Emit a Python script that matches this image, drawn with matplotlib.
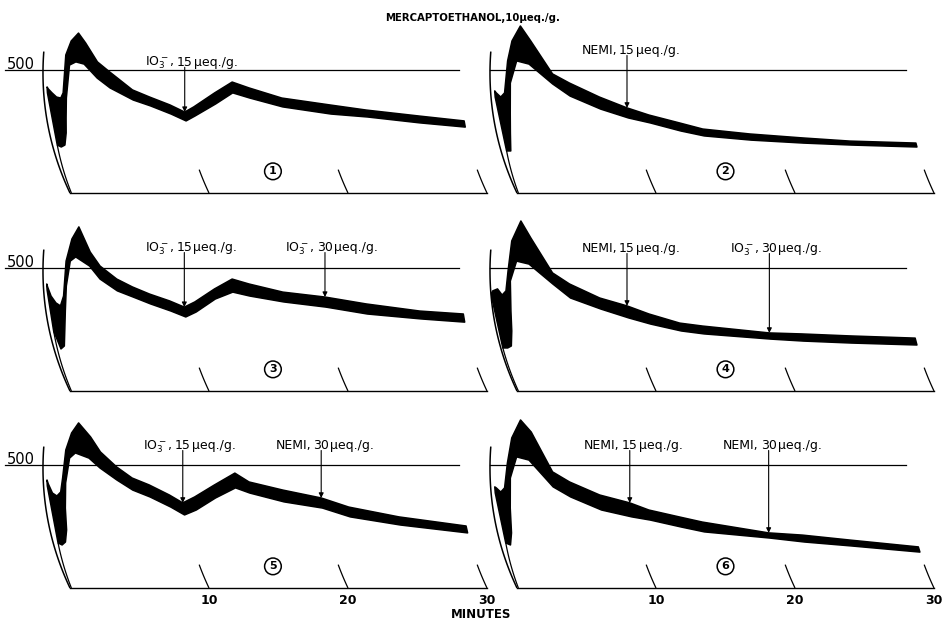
"""Six recorder traces: mercaptoethanol 10 ueq/g followed by IO3- / NEMI additions."""

import numpy as np
import matplotlib
matplotlib.use("Agg")
import matplotlib.pyplot as plt

# --------------------------------------------------------------- data
# Pen band: time (min) and upper / lower edge of the
# trace in chart units (the ruled line is 500).

time_1 = [0.27, 0.35, 0.6, 0.9, 1.2, 1.4, 1.6, 1.9,
          2.35, 2.95, 3.9, 4.8, 6.4, 7.6, 9.0, 10.0, 10.7, 12.3, 13.6,
          14.8, 17.1, 20.5, 23.1, 26.8, 30.0]
upper_1 = [431, 423, 407, 390, 386, 407, 561, 618,
           650, 610, 533, 492, 419, 390, 358, 329, 350, 407, 451,
           427, 386, 358, 337, 313, 293]
lower_1 = [407, 195, 187, 195, 244, 305, 386, 520,
           533, 524, 467, 427, 378, 354, 321, 293, 313, 362, 407,
           386, 350, 321, 309, 285, 268]

time_2 = [0.3, 0.4, 0.7, 1.0, 1.25, 1.45,
          1.9, 2.8, 4.5, 5.7, 7.8, 9.7, 11.2, 13.3, 14.9, 18.2, 21.9, 25.3, 30.0]
upper_2 = [415, 407, 390, 407, 537, 618,
           679, 618, 484, 447, 390, 346, 317, 285, 260, 240, 224, 211, 203]
lower_2 = [390, 171, 171, 244, 325, 447,
           537, 524, 443, 394, 341, 305, 285, 252, 232, 215, 203, 195, 187]

time_3 = [0.25, 0.3, 0.5, 0.8, 1.1, 1.4, 1.65, 1.95,
          2.33, 3.35, 4.1, 5.3, 6.4, 7.6, 9.0, 10.0, 10.8, 12.3, 13.6,
          14.8, 17.2, 20.2, 23.1, 26.9, 30.0]
upper_3 = [435, 423, 386, 358, 346, 386, 528, 618,
           667, 565, 508, 455, 423, 394, 366, 341, 362, 415, 455,
           435, 402, 382, 354, 325, 313]
lower_3 = [411, 244, 171, 183, 244, 325, 427, 528,
           545, 508, 455, 407, 382, 354, 325, 301, 321, 374, 402,
           386, 362, 341, 313, 293, 280]

time_4 = [0.05, 0.15, 0.5, 0.8, 1.1, 1.3, 1.45,
          1.9, 2.8, 4.5, 5.7, 7.8, 9.7, 11.2, 13.3, 14.9, 19.6, 21.9, 25.3, 30.0]
upper_4 = [398, 407, 415, 390, 407, 488, 610,
           691, 622, 480, 435, 378, 346, 313, 276, 264, 236, 232, 224, 215]
lower_4 = [374, 175, 175, 183, 244, 325, 447,
           528, 516, 435, 378, 333, 297, 272, 244, 232, 211, 203, 195, 187]

time_5 = [0.27, 0.35, 0.6, 0.9, 1.2, 1.4, 1.6, 1.9,
          2.3, 3.3, 4.1, 5.3, 6.4, 7.6, 9.0, 9.9, 10.8, 12.3, 13.8,
          14.8, 17.2, 19.9, 21.8, 25.3, 30.0]
upper_5 = [439, 423, 386, 374, 390, 447, 561, 630,
           671, 614, 553, 492, 447, 419, 378, 346, 370, 419, 467,
           431, 398, 366, 329, 289, 252]
lower_5 = [415, 183, 175, 187, 236, 325, 427, 528,
           549, 528, 488, 439, 398, 370, 329, 297, 317, 366, 407,
           386, 350, 325, 289, 256, 224]

time_6 = [0.3, 0.4, 0.7, 1.0, 1.25, 1.45,
          1.9, 2.8, 4.5, 5.7, 7.8, 9.9, 11.2, 13.3, 14.9, 19.5, 21.9, 25.2, 30.0]
upper_6 = [411, 407, 390, 407, 508, 610,
           683, 634, 472, 431, 378, 346, 317, 289, 268, 224, 215, 195, 167]
lower_6 = [386, 183, 175, 224, 325, 447,
           533, 520, 411, 370, 317, 289, 276, 248, 228, 203, 187, 171, 146]

# (reagent, dose in ueq/g, time of addition in min)
additions_1 = [("IO3", 15, 10.0)]
additions_2 = [("NEMI", 15, 9.7)]
additions_3 = [("IO3", 15, 10.0), ("IO3", 30, 20.2)]
additions_4 = [("NEMI", 15, 9.7), ("IO3", 30, 19.6)]
additions_5 = [("IO3", 15, 9.9), ("NEMI", 30, 19.9)]
additions_6 = [("NEMI", 15, 9.9), ("NEMI", 30, 19.5)]

title = "MERCAPTOETHANOL,10μeq./g."
reference_level = 500
minute_ticks = [10, 20, 30]
reagent_names = {"IO3": r"IO$_3^-$,", "NEMI": "NEMI,"}

# --------------------------------------------------------------- layout
W, H = 948, 623
PX_MIN = 13.9          # px per minute
PX_UNIT = 0.246        # px per chart unit
ARC_R, ARC_HC = 280.0, 120.0   # pen arc radius / centre height, px
COL_X0 = [70, 517]
ROW_Y0 = [193, 391, 588]
XLIM = (-6.0, 32.0)
YLIM = (-80.0, 760.0)
LABEL_V = [517, 565, 569, 565, 565, 565]   # text baseline per panel
FS = 9


def shift(v):
    """Curvilinear pen: horizontal lag (min) of a point at height v."""
    h = np.asarray(v, dtype=float) * PX_UNIT
    return (np.sqrt(ARC_R ** 2 - (h - ARC_HC) ** 2)
            - np.sqrt(ARC_R ** 2 - ARC_HC ** 2)) / PX_MIN


def time_line(ax, t0, t1, v0, v1, lw=1.0):
    v = np.linspace(v0, v1, 60)
    t = np.linspace(t0, t1, 60)
    ax.plot(t - shift(v), v, color="k", lw=lw, solid_capstyle="butt")


def panel_axes(fig, x0, y0):
    left = x0 + XLIM[0] * PX_MIN
    width = (XLIM[1] - XLIM[0]) * PX_MIN
    top = y0 - YLIM[1] * PX_UNIT
    height = (YLIM[1] - YLIM[0]) * PX_UNIT
    ax = fig.add_axes([left / W, 1 - (top + height) / H, width / W, height / H])
    ax.set_xlim(*XLIM)
    ax.set_ylim(*YLIM)
    ax.axis("off")
    ax.patch.set_alpha(0)
    return ax


def draw_panel(ax, time, upper, lower, additions, number, label_v,
               left_col, bottom_row):
    t = np.asarray(time, dtype=float)
    up = np.asarray(upper, dtype=float)
    lo = np.asarray(lower, dtype=float)

    # chart frame: zero-time arc, base line, minute marks, 500 line
    time_line(ax, 0, 0, 0, 575, lw=1.1)
    ax.plot([0, minute_ticks[-1]], [0, 0], color="k", lw=1.0)
    for m in minute_ticks:
        time_line(ax, m, m, 0, 95, lw=0.9)
        if bottom_row:
            ax.text(m, -50, str(m), ha="center", va="center",
                    fontsize=9, fontweight="bold")
    x_start = -4.7 if left_col else -float(shift(reference_level))
    ax.plot([x_start, 28.0], [reference_level] * 2, color="k", lw=0.9)
    if left_col:
        ax.text(-3.55, reference_level + 22, str(reference_level),
                ha="center", va="center", fontsize=10.5)

    # pen trace: drop from zero then the noisy band
    time_line(ax, 0.1, t[1], 0, lo[1], lw=0.9)
    xs = np.r_[t - shift(up), (t - shift(lo))[::-1]]
    vs = np.r_[up, lo[::-1]]
    ax.fill(xs, vs, color="k", lw=1.1, joinstyle="round", zorder=3)

    px = 1.0 / PX_MIN
    for reagent, dose, t_add in additions:
        v_tip = float(np.interp(t_add, t, up))
        x = t_add - float(shift(v_tip))
        ax.annotate("", xy=(x, v_tip), xytext=(x, label_v - 6),
                    arrowprops=dict(arrowstyle="-|>", color="k", lw=0.8,
                                    mutation_scale=7, shrinkA=0, shrinkB=0),
                    zorder=4)
        ax.text(x - 10 * px, label_v, reagent_names[reagent], ha="right",
                va="baseline", fontsize=FS)
        ax.text(x, label_v, str(dose), ha="center", va="baseline", fontsize=FS)
        ax.text(x + 9 * px, label_v, "μeq./g.", ha="left",
                va="baseline", fontsize=FS)

    cx = 14.6 if left_col else 15.0
    ax.text(cx, 88, str(number), ha="center", va="center", fontsize=8,
            fontweight="bold",
            bbox=dict(boxstyle="circle,pad=0.3", fc="white", ec="k", lw=1.1))


# --------------------------------------------------------------- figure
plt.rcParams["mathtext.fontset"] = "dejavusans"
fig = plt.figure(figsize=(W / 100, H / 100), dpi=100)
fig.patch.set_facecolor("white")

panels = [
    (time_1, upper_1, lower_1, additions_1),
    (time_2, upper_2, lower_2, additions_2),
    (time_3, upper_3, lower_3, additions_3),
    (time_4, upper_4, lower_4, additions_4),
    (time_5, upper_5, lower_5, additions_5),
    (time_6, upper_6, lower_6, additions_6),
]
for i, (tt, uu, ll, adds) in enumerate(panels):
    row, col = divmod(i, 2)
    ax = panel_axes(fig, COL_X0[col], ROW_Y0[row])
    draw_panel(ax, tt, uu, ll, adds, i + 1, LABEL_V[i],
               left_col=(col == 0), bottom_row=(row == 2))

fig.text(473 / W, 1 - 18 / H, title, ha="center", va="center",
         fontsize=7.3, fontweight="bold")
fig.text(481 / W, 1 - 615 / H, "MINUTES", ha="center", va="center",
         fontsize=8.5, fontweight="bold")

fig.savefig("out.png", dpi=100, facecolor="white")
